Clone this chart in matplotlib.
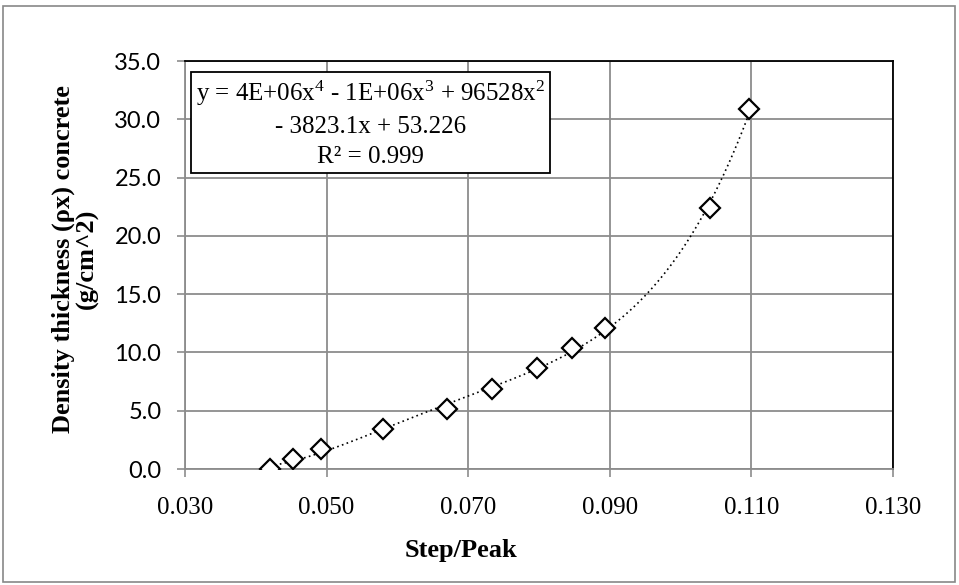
import matplotlib.pyplot as plt
import numpy as np
from matplotlib.patches import Rectangle

# data
step_peak = [0.0420, 0.0453, 0.0492, 0.0580, 0.0670, 0.0734, 0.0797, 0.0846, 0.0893, 0.1042, 0.1097]
density = [0.0, 0.86, 1.70, 3.45, 5.15, 6.90, 8.66, 10.35, 12.07, 22.36, 30.85]
x_ticks = [0.030, 0.050, 0.070, 0.090, 0.110, 0.130]
y_ticks = [0, 5, 10, 15, 20, 25, 30, 35]
eq_text = "y = 4E+06x$^4$ - 1E+06x$^3$ + 96528x$^2$\n- 3823.1x + 53.226\nR² = 0.999"

plt.rcParams['mathtext.fontset'] = 'custom'
plt.rcParams['mathtext.rm'] = 'Liberation Serif'
plt.rcParams['mathtext.it'] = 'Liberation Serif'
plt.rcParams['mathtext.default'] = 'rm'

fig = plt.figure(figsize=(9.59, 5.85), dpi=100)
ax = fig.add_axes([185/959, 1 - 469/585, (893 - 185)/959, (469 - 61)/585])

# outer chart border
fig.patches.append(Rectangle((3/959, 3/585), 952/959, 576/585, transform=fig.transFigure,
                             fill=False, edgecolor='#888888', lw=1.2))

# 4th order trendline
coef = np.polyfit(step_peak, density, 4)
xs = np.linspace(min(step_peak), max(step_peak), 300)
ax.plot(xs, np.polyval(coef, xs), color='black', lw=1.2, ls=(0, (1, 2)), zorder=3)

ax.plot(step_peak, density, ls='none', marker='D', ms=10, mfc='white', mec='black', mew=1.6, zorder=4)

ax.set_xlim(0.030, 0.130)
ax.set_ylim(0, 35)
ax.set_xticks(x_ticks)
ax.set_yticks(y_ticks)
ax.set_xticklabels([f"{v:.3f}" for v in x_ticks], family='Liberation Serif', fontsize=18)
ax.set_yticklabels([f"{v:.1f}" for v in y_ticks], family='Lato', fontsize=17)
ax.grid(True, color='#8c8c8c', lw=1.3)
ax.set_axisbelow(True)
ax.tick_params(direction='out', length=6, color='#8c8c8c', width=1.2)
ax.tick_params(axis='x', pad=14)
ax.tick_params(axis='y', pad=11)

for s in ['top', 'right']:
    ax.spines[s].set_color('black')
    ax.spines[s].set_linewidth(1.3)
for s in ['left', 'bottom']:
    ax.spines[s].set_color('#8c8c8c')
    ax.spines[s].set_linewidth(1.3)

fig.text(461/959, 1 - 550/585, "Step/Peak", family='Liberation Serif', fontweight='bold',
         fontsize=19, ha='center', va='center')
fig.text(75/959, 1 - 259/585, "Density thickness (ρx) concrete\n(g/cm^2)", family='Liberation Serif',
         fontweight='bold', fontsize=19, ha='center', va='center', rotation=90, linespacing=1.0)

ax.text(0.0155, 0.847, eq_text, transform=ax.transAxes, ha='left', va='center', multialignment='center',
        family='Liberation Serif', fontsize=18, linespacing=1.45, zorder=5,
        bbox=dict(boxstyle='square,pad=0.2', facecolor='white', edgecolor='black', lw=1.3))

fig.savefig("out.png", dpi=100)
